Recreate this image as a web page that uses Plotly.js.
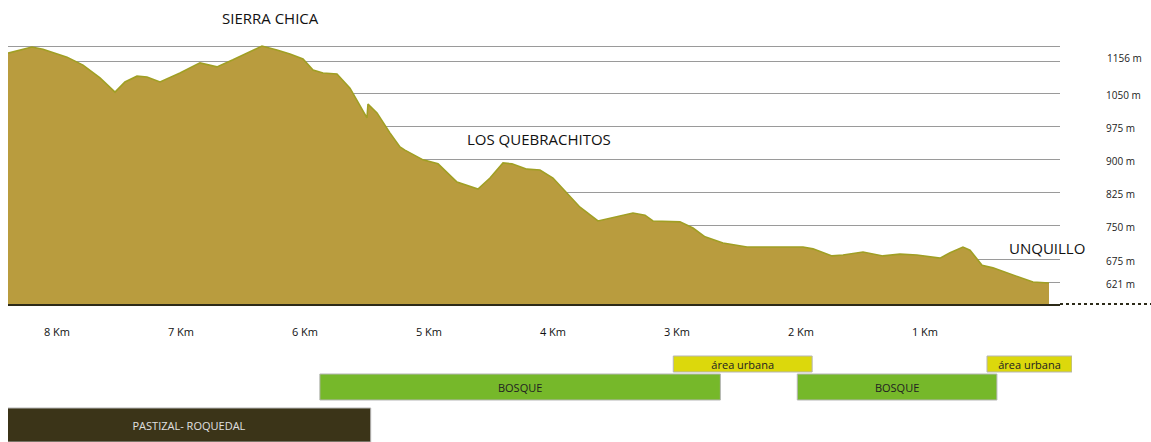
<!DOCTYPE html>
<html><head><meta charset="utf-8">
<script src="https://cdn.plot.ly/plotly-3.0.1.min.js"></script>
<style>html,body{margin:0;padding:0;background:#fff}#chart{width:1151px;height:442px}</style>
</head><body><div id="chart"></div>
<script>
// Elevation profile: distance to Unquillo (km) and elevation (m)
const distanceKm = [8.395,8.202,8.113,7.919,7.790,7.653,7.532,7.452,7.355,7.274,7.169,7.008,6.847,6.710,6.581,6.468,6.347,6.226,6.121,6.016,5.935,5.855,5.742,5.637,5.500,5.492,5.419,5.315,5.234,5.194,5.048,4.927,4.774,4.605,4.508,4.403,4.331,4.210,4.105,4.000,3.887,3.782,3.637,3.516,3.355,3.258,3.194,2.976,2.871,2.774,2.629,2.435,2.169,1.984,1.903,1.750,1.661,1.500,1.339,1.202,1.065,0.879,0.798,0.694,0.637,0.540,0.452,0.290,0.129,0.000];
const elevationM = [1140,1154,1149,1131,1113,1084,1052,1075,1088,1086,1075,1095,1118,1109,1125,1140,1156,1147,1138,1127,1102,1095,1093,1061,994,1025,1005,960,928,921,899,890,849,833,858,892,890,878,876,858,824,792,761,768,779,774,761,759,745,725,711,702,702,702,698,682,684,691,682,686,684,677,689,702,695,661,655,639,623,621];

const elevTickVals = [621,675,750,825,900,975,1050,1122,1156];
const elevTickText = ['621 m','675 m','750 m','825 m','900 m','975 m','1050 m','',''];
const topElevVal = 1156;
const topElevText = '1156 m';
const kmTickVals = [1,2,3,4,5,6,7,8];
const kmTickText = ['1 Km','2 Km','3 Km','4 Km','5 Km','6 Km','7 Km','8 Km'];

const placeNames = ['SIERRA CHICA','LOS QUEBRACHITOS','UNQUILLO'];
const placeKm = [6.28,4.11,0.02];
const placeElev = [1220,946,701];

// Land-cover bands (km from Unquillo)
const urbanLabel = 'área urbana';
const urbanFrom = [3.03,0.50];
const urbanTo = [1.91,-0.185];
const forestLabel = 'BOSQUE';
const forestFrom = [5.88,2.03];
const forestTo = [2.65,0.42];
const grassLabel = 'PASTIZAL- ROQUEDAL';
const grassFrom = [8.40];
const grassTo = [5.47];

const FONT = 'Open Sans, sans-serif';
const Y_BOTTOM = 573.4, Y_TOP = 1192.3, Y_DOM0 = 0.33495;

function band(from, to, label, row, thick, color, txtColor){
  return {
    type:'bar', orientation:'h', xaxis:'x2', yaxis:'y2',
    base: to, x: from.map((f,i)=>f-to[i]),
    y: from.map(()=>row), width: from.map(()=>thick),
    text: from.map(()=>label), textposition:'inside', insidetextanchor:'middle',
    textangle:0, constraintext:'none',
    textfont:{family:FONT,size:11,color:txtColor},
    marker:{color:color,line:{color:'#b5b5b5',width:1}},
    hoverinfo:'skip', showlegend:false
  };
}

const traces = [
  {type:'scatter', mode:'lines', x:distanceKm, y:elevationM, fill:'tozeroy',
   fillcolor:'#b99c3e', line:{color:'#a09f24',width:1.6}, hoverinfo:'skip', showlegend:false},
  band(urbanFrom, urbanTo, urbanLabel, 14, 16, '#dcd80c', '#222'),
  band(forestFrom, forestTo, forestLabel, 37, 26, '#76b82a', '#222'),
  band(grassFrom, grassTo, grassLabel, 75, 34, '#3b3418', '#e0e0e0')
];

// convert an elevation above the plotted range to a paper fraction
function elevToPaper(v){ return Y_DOM0 + (v - Y_BOTTOM)/(Y_TOP - Y_BOTTOM)*(1 - Y_DOM0); }

const annotations = placeNames.map((n,i)=>({text:n, x:placeKm[i], xref:'x',
    y: elevToPaper(placeElev[i]), yref:'paper',
    showarrow:false, xanchor:'center', yanchor:'middle', font:{family:FONT,size:15,color:'#111'}}));
annotations.push({text:topElevText, x:1.031, xref:'paper', y:topElevVal, yref:'y', yshift:-12,
  showarrow:false, xanchor:'left', yanchor:'middle', font:{family:FONT,size:10,color:'#222'}});

const layout = {
  width:1151, height:442,
  margin:{l:8, r:79, t:30, b:0},
  paper_bgcolor:'#fff', plot_bgcolor:'rgba(0,0,0,0)',
  font:{family:FONT, color:'#222'},
  showlegend:false,
  barmode:'overlay',
  xaxis:{domain:[0,0.98872], range:[8.395,-0.0887], anchor:'y',
    tickvals:kmTickVals, ticktext:kmTickText, ticks:'', showgrid:false, zeroline:false,
    showline:true, linecolor:'#2c2a18', linewidth:2, ticklabelstandoff:17,
    tickfont:{family:FONT,size:11,color:'#111'}},
  yaxis:{domain:[Y_DOM0,1], range:[Y_BOTTOM,Y_TOP], anchor:'x', side:'right',
    tickvals:elevTickVals, ticktext:elevTickText, ticks:'', showgrid:true,
    gridcolor:'#9a9a9a', gridwidth:1, zeroline:false, showline:false,
    ticklabelstandoff:45, ticklabelshift:2,
    tickfont:{family:FONT,size:10,color:'#222'}},
  xaxis2:{domain:[0,1], range:[8.395,-0.1855], anchor:'y2', visible:false},
  yaxis2:{domain:[0,0.2233], range:[92,0], anchor:'x2', visible:false},
  annotations: annotations,
  shapes:[{type:'line', xref:'paper', yref:'paper', x0:0.98872, x1:1.075, y0:Y_DOM0, y1:Y_DOM0,
    line:{color:'#2c2a18', width:2, dash:'dot'}}]
};

Plotly.newPlot('chart', traces, layout, {staticPlot:true, displayModeBar:false});
</script>
</body></html>
